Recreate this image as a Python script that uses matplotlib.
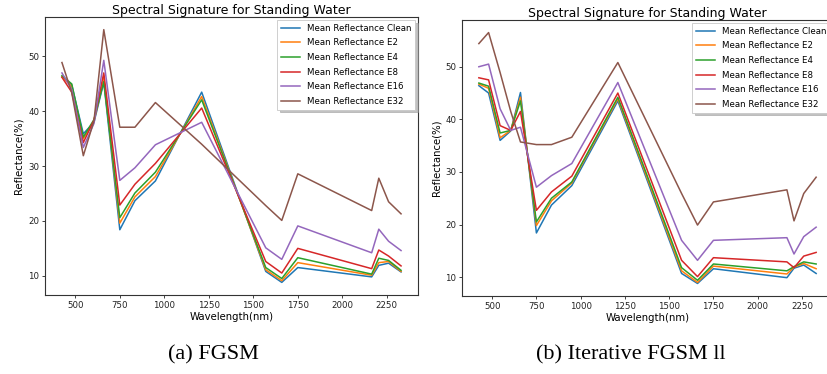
import matplotlib
matplotlib.use("Agg")
import matplotlib.pyplot as plt

wavelengths = [425, 480, 545, 605, 660, 750, 835, 950, 1210, 1570, 1660, 1750, 2165, 2205, 2260, 2330]
series_names = ["Mean Reflectance Clean", "Mean Reflectance E2", "Mean Reflectance E4",
                "Mean Reflectance E8", "Mean Reflectance E16", "Mean Reflectance E32"]

# Panel (a) FGSM
fgsm_clean = [46.3, 44.8, 35.9, 38.0, 45.3, 18.4, 23.7, 27.3, 43.5, 10.8, 8.8, 11.5, 9.8, 11.9, 12.3, 10.7]
fgsm_e2 = [46.3, 44.5, 35.0, 38.2, 46.0, 19.6, 24.4, 28.1, 42.7, 11.1, 9.1, 12.4, 10.1, 12.4, 12.6, 10.8]
fgsm_e4 = [46.5, 45.0, 35.3, 38.5, 45.4, 20.6, 25.1, 28.9, 42.1, 11.5, 9.5, 13.3, 10.3, 13.2, 12.8, 11.0]
fgsm_e8 = [46.2, 43.5, 34.3, 38.4, 47.0, 22.9, 26.7, 30.5, 40.6, 12.6, 10.5, 15.0, 11.3, 14.7, 13.6, 11.8]
fgsm_e16 = [47.0, 44.0, 33.4, 37.8, 49.3, 27.4, 29.7, 33.9, 38.0, 15.1, 13.0, 19.1, 14.2, 18.5, 16.3, 14.6]
fgsm_e32 = [48.9, 43.4, 31.9, 38.3, 54.9, 37.1, 37.1, 41.6, 34.0, 22.8, 20.1, 28.6, 21.9, 27.8, 23.5, 21.3]

# Panel (b) Iterative FGSM ll
ifgsm_clean = [46.4, 45.0, 36.0, 37.8, 45.1, 18.4, 23.7, 27.4, 43.5, 10.7, 8.8, 11.6, 9.9, 11.7, 12.3, 10.7]
ifgsm_e2 = [46.7, 45.9, 36.5, 37.9, 44.2, 19.8, 24.5, 27.9, 43.9, 11.2, 9.0, 12.1, 10.6, 11.9, 12.6, 11.6]
ifgsm_e4 = [46.9, 46.3, 37.4, 37.9, 43.5, 20.5, 25.0, 28.1, 44.2, 11.8, 9.4, 12.5, 11.2, 12.0, 12.9, 12.5]
ifgsm_e8 = [47.9, 47.5, 38.8, 37.9, 41.5, 22.7, 26.2, 29.2, 45.0, 13.2, 10.1, 13.7, 12.9, 11.8, 14.0, 14.7]
ifgsm_e16 = [50.0, 50.5, 42.0, 37.9, 38.5, 27.1, 29.3, 31.6, 47.0, 17.0, 13.2, 17.0, 17.5, 14.4, 17.7, 19.5]
ifgsm_e32 = [54.4, 56.5, 48.9, 41.5, 35.7, 35.2, 35.2, 36.6, 50.8, 25.9, 19.9, 24.3, 26.6, 20.7, 25.9, 29.0]

title_text = "Spectral Signature for Standing Water"
xlabel_text = "Wavelength(nm)"
ylabel_text = "Reflectance(%)"
captions = ["(a) FGSM", "(b) Iterative FGSM ll"]

panel_a = [fgsm_clean, fgsm_e2, fgsm_e4, fgsm_e8, fgsm_e16, fgsm_e32]
panel_b = [ifgsm_clean, ifgsm_e2, ifgsm_e4, ifgsm_e8, ifgsm_e16, ifgsm_e32]
colors = ["#1f77b4", "#ff7f0e", "#2ca02c", "#d62728", "#9467bd", "#8c564b"]

W, H = 827, 374
fig = plt.figure(figsize=(W / 100, H / 100), dpi=100)

def px_axes(l, t, r, b):
    return fig.add_axes([l / W, 1 - b / H, (r - l) / W, (b - t) / H])

ax_a = px_axes(45, 17, 418, 295)
ax_b = px_axes(462, 20, 833, 296)

for ax, data in [(ax_a, panel_a), (ax_b, panel_b)]:
    for vals, name, c in zip(data, series_names, colors):
        ax.plot(wavelengths, vals, color=c, lw=1.1, label=name)
    ax.set_title(title_text, fontsize=9, pad=1.5)
    ax.set_xlabel(xlabel_text, fontsize=7.3, labelpad=1.5)
    ax.set_ylabel(ylabel_text, fontsize=7.3, labelpad=3)
    ax.set_xticks([500, 750, 1000, 1250, 1500, 1750, 2000, 2250])
    ax.set_yticks([10, 20, 30, 40, 50])
    ax.tick_params(labelsize=6.2, length=2.2, width=0.6, pad=2, colors="#222222")
    for s in ax.spines.values():
        s.set_linewidth(0.8)
        s.set_color("#333333")
    leg = ax.legend(loc="upper right", fontsize=6.2,
                    shadow={"color": "#9a9a9a", "alpha": 0.6},
                    fancybox=False, borderaxespad=0.35, handlelength=2.2,
                    labelspacing=0.66, borderpad=0.42, framealpha=1)
    leg.get_frame().set_linewidth(0.6)
    leg.get_frame().set_edgecolor("#c8c8c8")

fig.text(213 / W, 1 - 355 / H, captions[0], fontsize=16, family="Liberation Serif",
         ha="center", va="center")
fig.text(631 / W, 1 - 355 / H, captions[1], fontsize=16, family="Liberation Serif",
         ha="center", va="center")

fig.savefig("out.png", dpi=100)
